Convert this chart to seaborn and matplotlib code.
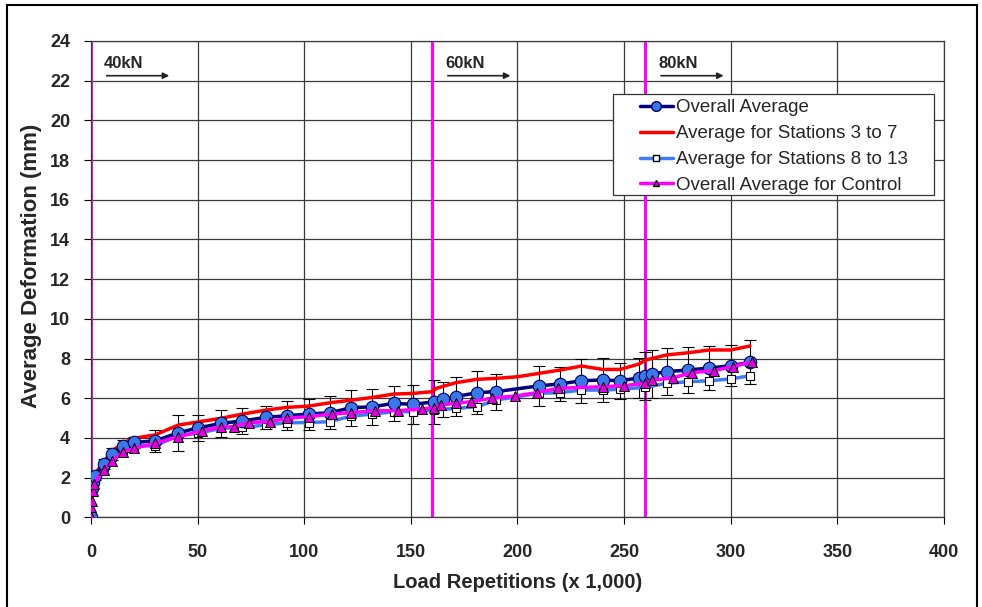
import matplotlib
matplotlib.use('Agg')
from matplotlib import pyplot as plt
from matplotlib.lines import Line2D
from matplotlib.patches import Rectangle
import seaborn as sns
import pandas as pd

# Overall average (with error bars)
overall_x = [0, 0.5, 1, 2, 6, 10, 15, 20, 30, 41, 50, 61, 71, 82, 92, 102, 112, 122, 132, 142,
             151, 161, 165, 171, 181, 190, 210, 220, 230, 240, 248, 257, 260, 263, 270, 280, 290, 300, 309]
overall_y = [0, 1.46, 1.8, 2.1, 2.7, 3.2, 3.6, 3.77, 3.85, 4.26, 4.5, 4.73, 4.86, 5.03, 5.12, 5.2, 5.27, 5.52, 5.57, 5.74,
             5.69, 5.82, 5.94, 6.08, 6.28, 6.33, 6.62, 6.72, 6.88, 6.92, 6.88, 7.02, 7.12, 7.22, 7.34, 7.42, 7.52, 7.64, 7.81]
overall_err = [0, 0.1, 0.15, 0.2, 0.25, 0.3, 0.3, 0.3, 0.55, 0.9, 0.67, 0.67, 0.67, 0.6, 0.72, 0.78, 0.83, 0.9, 0.9, 0.88,
               0.97, 1.1, 0.9, 1.0, 1.07, 0.9, 1.0, 0.87, 1.1, 1.1, 0.9, 1.0, 1.2, 1.2, 1.2, 1.14, 1.1, 1.04, 1.1]

# Stations 3 to 7
st37_x = [0, 0.5, 1, 2, 6, 10, 15, 20, 30, 41, 50, 61, 71, 82, 92, 102, 112, 122, 132, 142,
          151, 160, 162, 171, 181, 190, 200, 210, 220, 230, 240, 248, 257, 260, 270, 280, 290, 300, 309]
st37_y = [0, 1.5, 1.9, 2.2, 2.8, 3.35, 3.75, 3.98, 4.15, 4.65, 4.8, 4.99, 5.2, 5.4, 5.54, 5.6, 5.77, 5.9, 6.04, 6.21,
          6.24, 6.33, 6.5, 6.78, 6.95, 7.0, 7.08, 7.25, 7.42, 7.62, 7.45, 7.45, 7.72, 7.92, 8.18, 8.29, 8.43, 8.43, 8.63]

# Stations 8 to 13
st813_x = [0, 0.5, 1, 2, 6, 10, 15, 20, 30, 41, 50, 61, 71, 82, 92, 102, 112, 122, 132, 142,
           151, 161, 171, 181, 190, 210, 220, 230, 240, 248, 260, 270, 280, 290, 300, 309]
st813_y = [0, 1.4, 1.75, 2.05, 2.55, 3.05, 3.4, 3.6, 3.6, 4.12, 4.23, 4.48, 4.53, 4.65, 4.77, 4.77, 4.82, 5.1, 5.2, 5.32,
           5.32, 5.4, 5.49, 5.57, 5.91, 6.25, 6.28, 6.41, 6.41, 6.45, 6.55, 6.75, 6.83, 6.88, 6.97, 7.13]

# Control
ctrl_x = [0, 0.2, 0.4, 0.8, 1.5, 6, 10, 15, 20, 30, 41, 52, 61, 67, 74, 84, 92, 102, 113, 122,
          133, 144, 155, 161, 164, 171, 178, 188, 199, 209, 219, 240, 250, 260, 263, 273, 282, 292, 301, 310]
ctrl_y = [0, 0.5, 0.8, 1.3, 1.7, 2.4, 2.85, 3.3, 3.47, 3.73, 4.06, 4.35, 4.56, 4.56, 4.77, 4.82, 4.99, 5.07, 5.2, 5.27,
          5.37, 5.37, 5.46, 5.52, 5.66, 5.74, 5.82, 6.0, 6.11, 6.28, 6.5, 6.58, 6.63, 6.75, 6.9, 7.03, 7.29, 7.39, 7.59, 7.84]

load_changes = [0, 160, 260]
load_labels = ['40kN', '60kN', '80kN']

sns.set_style('white')
plt.rcParams['font.family'] = ['Liberation Sans', 'DejaVu Sans']

fig = plt.figure(figsize=(9.82, 6.07), dpi=100)
ax = fig.add_axes([0.0927, 0.1478, 0.8685, 0.7847])

overall = pd.DataFrame({'x': overall_x, 'y': overall_y, 'err': overall_err})
st37 = pd.DataFrame({'x': st37_x, 'y': st37_y})
st813 = pd.DataFrame({'x': st813_x, 'y': st813_y})
ctrl = pd.DataFrame({'x': ctrl_x, 'y': ctrl_y})

ax.grid(True, color='#3a3a3a', linewidth=0.9)
ax.set_axisbelow(True)

for xc in load_changes:
    ax.axvline(xc, color='#ff00ff', linewidth=2.2, zorder=2)

ax.errorbar(overall.x, overall.y, yerr=overall.err, fmt='none', ecolor='black',
            elinewidth=0.8, capsize=4, capthick=0.8, zorder=3)

sns.lineplot(data=st37, x='x', y='y', color='#ff0000', linewidth=2.5, ax=ax, zorder=4)
sns.lineplot(data=st813, x='x', y='y', color='#3d7cf5', linewidth=2.5, marker='s',
             markersize=6, markerfacecolor='white', markeredgecolor='black', markeredgewidth=0.8, ax=ax, zorder=5)
sns.lineplot(data=overall, x='x', y='y', color='#000080', linewidth=2.5, marker='o',
             markersize=9, markerfacecolor='#3a78e8', markeredgecolor='#000060', markeredgewidth=0.8, ax=ax, zorder=6)
sns.lineplot(data=ctrl, x='x', y='y', color='#ff00ff', linewidth=2.5, marker='^',
             markersize=7, markerfacecolor='#e000e0', markeredgecolor='black', markeredgewidth=0.7, ax=ax, zorder=7)

for xc, lab in zip(load_changes, load_labels):
    ax.text(xc + 6, 22.65, lab, fontsize=12, fontweight='bold', ha='left', va='baseline')
    ax.annotate('', xy=(xc + 38, 22.25), xytext=(xc + 6, 22.25),
                arrowprops=dict(arrowstyle='-|>', color='#222222', lw=1.2, mutation_scale=9))

ax.set_xlim(0, 400)
ax.set_ylim(0, 24)
ax.set_xticks(range(0, 401, 50))
ax.set_yticks(range(0, 25, 2))
ax.tick_params(axis='both', which='both', direction='out', length=5, width=0.8,
               labelsize=13, color='black', left=True, bottom=True)
ax.tick_params(axis='x', pad=14)
ax.tick_params(axis='y', pad=10)
for lbl in ax.get_xticklabels() + ax.get_yticklabels():
    lbl.set_fontweight('bold')
ax.set_xlabel('Load Repetitions (x 1,000)', fontsize=14.5, fontweight='bold', labelpad=9)
ax.set_ylabel('Average Deformation (mm)', fontsize=16, fontweight='bold')
ax.yaxis.set_label_coords(-0.057, 0.528)
for s in ax.spines.values():
    s.set_color('#3a3a3a')
    s.set_linewidth(0.9)

# legend box drawn separately (Excel style, wide left margin)
ax.add_patch(Rectangle((0.612, 0.677), 0.376, 0.212, transform=ax.transAxes, facecolor='white',
                       edgecolor='#333333', linewidth=0.9, zorder=8))
handles = [
    Line2D([], [], color='#000080', lw=2.5, marker='o', markersize=7, markerfacecolor='#3a78e8', markeredgecolor='#000060'),
    Line2D([], [], color='#ff0000', lw=2.5),
    Line2D([], [], color='#3d7cf5', lw=2.5, marker='s', markersize=5, markerfacecolor='white', markeredgecolor='black'),
    Line2D([], [], color='#ff00ff', lw=2.5, marker='^', markersize=5, markerfacecolor='#e000e0', markeredgecolor='black'),
]
labels = ['Overall Average', 'Average for Stations 3 to 7', 'Average for Stations 8 to 13',
          'Overall Average for Control']
leg = ax.legend(handles, labels, loc='upper left', bbox_to_anchor=(0.6436, 0.878), fontsize=13.5,
                frameon=False, handlelength=1.75, handletextpad=0.2, borderpad=0,
                labelspacing=0.47, borderaxespad=0)
leg.set_zorder(9)

fig.patches.append(Rectangle((7 / 982, -0.02), 970 / 982, 1.0 - 5 / 607 + 0.02, transform=fig.transFigure,
                             fill=False, edgecolor='black', linewidth=1.5))

fig.savefig('out.png', dpi=100)
